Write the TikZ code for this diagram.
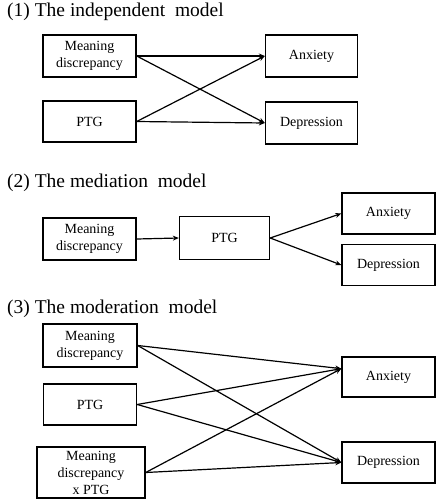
\documentclass[tikz,border=0pt]{standalone}
\usepackage{fontspec}
\setmainfont{Liberation Serif}
\usetikzlibrary{arrows.meta}
\newcommand{\mdtext}{Meaning\\discrepancy}

\begin{document}
\begin{tikzpicture}[x=1pt,y=-1pt,
  box/.style={draw, line width=1.4pt, inner sep=0pt, align=center,
    font=\fontsize{14}{17}\selectfont},
  head/.style={anchor=base west, inner sep=0pt, font=\fontsize{19.5}{22}\selectfont},
  path/.style={-{Stealth[length=6pt,width=5pt]}, line width=1.2pt}]
\useasboundingbox (0,0) rectangle (438,500);
% (1) independent
\node[head] (t1) at (7,17) {(1) The independent\ \ model};
\node[box, minimum width=93pt, minimum height=42pt] (md1) at (89.5,56) {\mdtext};
\node[box, minimum width=93pt, minimum height=41pt] (ptg1) at (89.5,121.5) {PTG};
\node[box, minimum width=92pt, minimum height=42pt] (anx1) at (311.5,56) {Anxiety};
\node[box, minimum width=92pt, minimum height=42pt] (dep1) at (311.5,123) {Depression};
\draw[path] (md1.east) -- (anx1.west);
\draw[path] (md1.east) -- (dep1.west);
\draw[path] (ptg1.east) -- (anx1.west);
\draw[path] (ptg1.east) -- (dep1.west);
% (2) mediation
\node[head] (t2) at (7,187) {(2) The mediation\ \ model};
\node[box, minimum width=93pt, minimum height=42pt] (md2) at (89.5,239) {\mdtext};
\node[box, minimum width=90pt, minimum height=43pt] (ptg2) at (224.5,238) {PTG};
\node[box, minimum width=93pt, minimum height=41pt] (anx2) at (388.5,213.5) {Anxiety};
\node[box, minimum width=93pt, minimum height=41pt] (dep2) at (388.5,265) {Depression};
\draw[path] (md2.east) -- (ptg2.west);
\draw[path] (ptg2.east) -- (anx2.west);
\draw[path] (ptg2.east) -- (dep2.west);
% (3) moderation
\node[head] (t3) at (7,313) {(3) The moderation\ \ model};
\node[box, minimum width=94pt, minimum height=43pt] (md3) at (90,345.5) {\mdtext};
\node[box, minimum width=93pt, minimum height=41pt] (ptg3) at (90,404.5) {PTG};
\node[box, minimum width=108pt, minimum height=51pt] (mx3) at (91,472.5) {\mdtext\\x PTG};
\node[box, minimum width=93pt, minimum height=40pt] (anx3) at (388.5,377) {Anxiety};
\node[box, minimum width=93pt, minimum height=41pt] (dep3) at (388.5,462.5) {Depression};
%     to anxiety
\draw[path] (md3.east) -- (anx3.170);
\draw[path] (ptg3.east) -- (anx3.170);
\draw[path] (mx3.east) -- (anx3.170);
%     to depression
\draw[path] (md3.east) -- (dep3.west);
\draw[path] (ptg3.east) -- (dep3.west);
\draw[path] (mx3.east) -- (dep3.west);
\end{tikzpicture}
\end{document}
